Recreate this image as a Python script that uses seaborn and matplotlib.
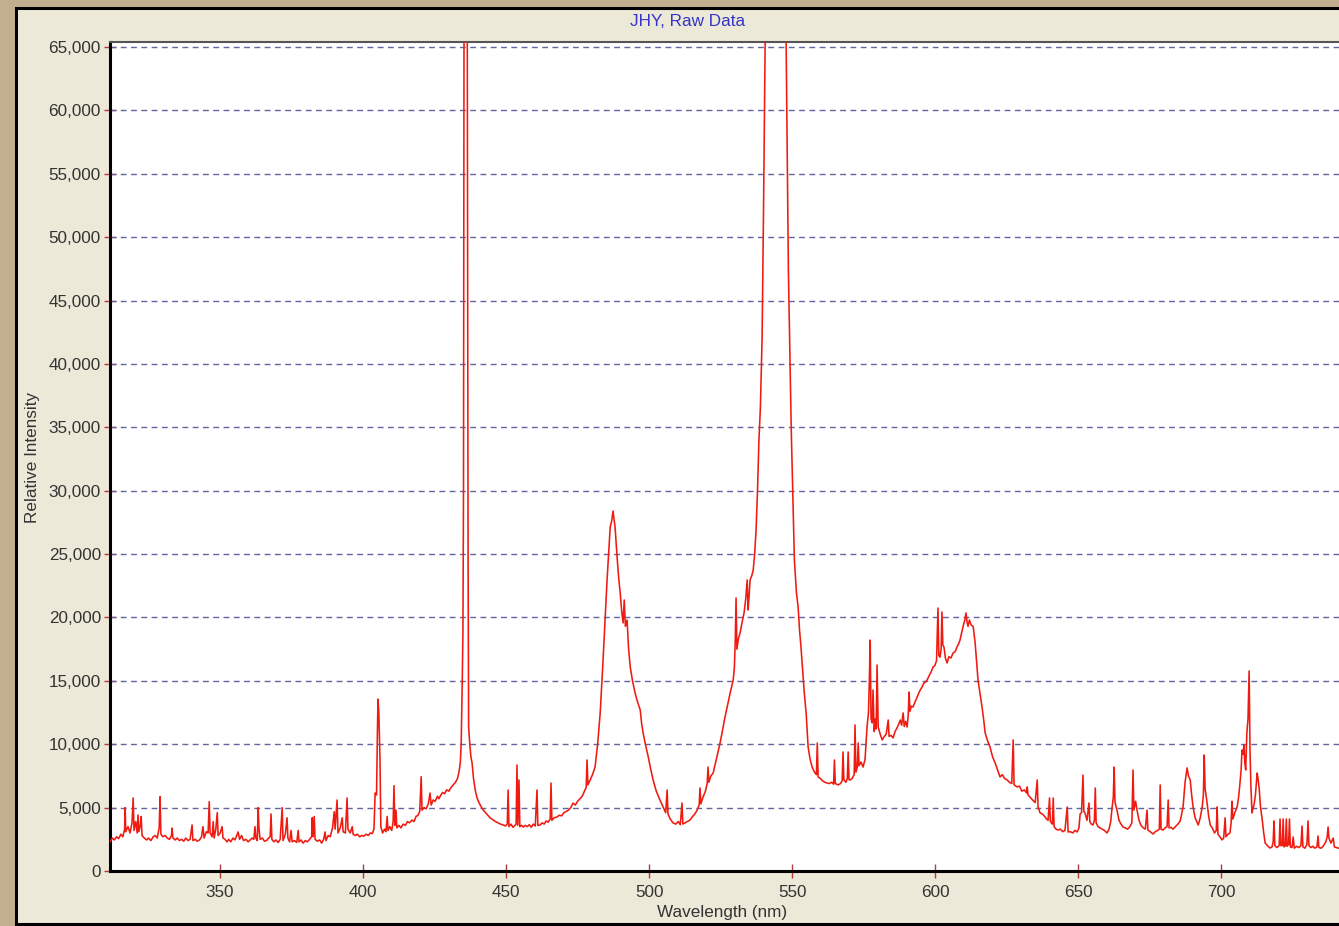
import matplotlib
matplotlib.use("Agg")
import matplotlib.pyplot as plt
from matplotlib.patches import Rectangle
from matplotlib.ticker import FuncFormatter, MultipleLocator
import seaborn as sns
import pandas as pd

# ---- spectrum data: (wavelength nm, relative intensity) ----
near_uv = [
    (311.5, 2300), (312.3, 2600), (313.0, 2450), (313.8, 2700), (314.5, 2550),
    (315.3, 2900), (316.0, 2700), (316.6, 3300), (316.8, 5000), (317.0, 3100),
    (317.8, 3500), (318.5, 3000), (319.2, 3800), (319.6, 5760), (319.9, 3200),
    (320.5, 3900), (321.0, 3000), (321.3, 4420), (321.6, 3100), (322.1, 3600),
    (322.4, 4300), (322.7, 2800), (323.5, 2600), (324.3, 2450), (325.0, 2600),
    (325.8, 2400), (326.6, 2700), (327.3, 2800), (328.0, 2600), (328.7, 3400),
    (329.0, 5860), (329.3, 2900), (330.0, 2700), (330.8, 2800), (331.5, 2600),
    (332.3, 2500), (333.0, 2800), (333.2, 3390), (333.5, 2600), (334.3, 2450),
    (335.0, 2600), (335.8, 2400), (336.5, 2500), (337.3, 2350), (338.0, 2600),
    (338.8, 2400), (339.5, 2500), (340.2, 3630), (340.5, 2400), (341.3, 2500),
    (342.0, 2350), (342.8, 2450), (343.5, 2700), (344.0, 3500), (344.4, 2600),
    (345.2, 3100), (345.8, 3000), (346.2, 5470), (346.5, 3000), (347.2, 2700),
    (347.6, 3890), (347.9, 2600), (348.5, 3300), (349.0, 4600), (349.3, 2800),
    (350.0, 3000), (350.7, 3500), (351.0, 2600), (351.7, 2500), (352.4, 2300),
    (353.0, 2500), (353.7, 2300), (354.5, 2600), (355.2, 2450), (355.8, 2800),
    (356.3, 3080), (356.8, 2500), (357.5, 2800), (358.2, 2400), (359.0, 2500),
    (359.8, 2300), (360.5, 2450), (361.2, 2600), (361.8, 2500), (362.2, 3500),
    (362.5, 2600), (363.0, 2400), (363.3, 5000), (363.6, 3300), (364.0, 2500),
    (364.8, 2600), (365.5, 2350), (366.2, 2400), (367.0, 2600), (367.5, 2700),
    (367.8, 4500), (368.1, 2500), (368.8, 2300), (369.5, 2450), (370.3, 2250),
    (371.0, 2500), (371.7, 5000), (372.0, 2400), (372.8, 2900), (373.4, 4200),
    (373.7, 2600), (374.3, 2300), (374.8, 3200), (375.2, 2300), (376.0, 2400),
    (376.8, 2250), (377.3, 3200), (377.6, 2300), (378.3, 2450), (379.0, 2200),
    (379.8, 2400), (380.5, 2300), (381.3, 2500), (382.0, 2700), (382.2, 4200),
    (382.5, 2700), (382.9, 4300), (383.2, 2500), (384.0, 2350), (384.8, 2450),
    (385.5, 2200), (386.2, 2500), (386.7, 3080), (387.0, 2400), (387.8, 2800),
    (388.5, 2700), (389.3, 3400), (389.9, 4680), (390.2, 3300), (390.9, 5600),
    (391.2, 3000), (392.0, 3400), (392.7, 4200), (393.0, 3100), (393.8, 3000),
    (394.4, 5760), (394.7, 3300), (395.5, 3000), (396.2, 3500), (396.5, 2900),
    (397.3, 2800), (398.0, 2900), (398.8, 2700), (399.5, 2800), (400.3, 2750),
    (401.0, 2900), (401.8, 2800), (402.5, 3000), (403.2, 2950), (403.8, 3300),
]

violet_blue = [
    (404.2, 6150), (404.7, 6000), (405.0, 11000), (405.2, 13570), (405.5, 12500),
    (405.9, 8840), (406.2, 3500), (406.8, 3000), (407.5, 3300), (408.0, 3100),
    (408.4, 4300), (408.7, 3200), (409.3, 3500), (410.0, 3200), (410.5, 3900),
    (410.8, 6730), (411.1, 3600), (411.5, 4800), (411.8, 3400), (412.5, 3600),
    (413.2, 3400), (414.0, 3700), (414.8, 3600), (415.5, 3900), (416.2, 3800),
    (417.1, 4020), (417.8, 3900), (418.5, 4300), (419.2, 4400), (419.8, 4700),
    (420.3, 7440), (420.6, 4800), (421.3, 5000), (422.0, 4900), (422.8, 5300),
    (423.4, 6150), (423.8, 5200), (424.5, 5600), (425.2, 5500), (426.0, 5900),
    (426.5, 5700), (427.2, 6000), (427.8, 6200), (428.5, 6100), (429.2, 6400),
    (430.0, 6300), (430.8, 6600), (431.5, 6790), (432.3, 7000), (433.0, 7300),
    (433.6, 7900), (434.0, 8600), (434.3, 10100), (434.6, 14000), (434.9, 18780),
    (435.1, 30000), (435.3, 70000), (435.8, 72000), (436.4, 70000), (436.7, 25000),
    (436.9, 11360), (437.3, 10000), (437.7, 9000), (438.1, 8520), (438.6, 7300),
    (439.2, 6390), (439.8, 5800), (440.5, 5400), (441.2, 5100), (442.0, 4810),
    (442.8, 4600), (443.6, 4400), (444.4, 4200), (445.5, 4020), (446.3, 3900),
    (447.2, 3800), (448.0, 3700), (449.0, 3630), (449.8, 3550), (450.4, 3700),
    (450.7, 6390), (451.0, 3500), (451.7, 3700), (452.4, 3450), (453.1, 3600),
    (453.5, 3700), (453.8, 8360), (454.1, 3600), (454.5, 7180), (454.8, 3500),
    (455.4, 3600), (456.0, 3470), (456.7, 3600), (457.4, 3500), (458.1, 3650),
    (458.8, 3450), (459.5, 3700), (460.2, 3550), (460.8, 6390), (461.1, 3600),
    (461.9, 3630), (462.6, 3800), (463.3, 3700), (464.0, 3950), (464.7, 3850),
    (465.4, 4100), (465.7, 6940), (466.0, 4000), (466.8, 4200), (467.8, 4260),
    (468.6, 4400), (469.4, 4350), (470.2, 4600), (471.0, 4700), (471.8, 4800),
    (472.6, 5000), (473.4, 5360), (474.2, 5200), (475.0, 5500), (475.8, 5700),
    (476.6, 5900), (477.4, 6300), (478.0, 6600), (478.3, 8760), (478.6, 6800),
    (479.4, 7180), (480.2, 7600), (481.1, 8200), (482.0, 10000), (482.9, 12470),
]

blue_green = [
    (483.9, 16650), (484.6, 19800), (485.3, 22960), (485.9, 25200), (486.4, 27140),
    (486.9, 27600), (487.4, 28400), (487.7, 27800), (488.1, 27140), (488.8, 24770),
    (489.4, 23000), (489.9, 21930), (490.4, 20500), (490.9, 19570), (491.3, 21380),
    (491.7, 19300), (492.3, 19800), (492.8, 17600), (493.4, 16100), (494.2, 15000),
    (495.1, 14040), (496.0, 13300), (496.9, 12700), (497.4, 11600), (497.9, 10890),
    (498.8, 9900), (499.7, 9000), (500.5, 8100), (501.4, 7180), (502.5, 6300),
    (503.8, 5600), (505.0, 5000), (505.8, 4600), (506.3, 6390), (506.6, 4500),
    (507.4, 4100), (508.4, 3790), (509.3, 3700), (510.2, 3900), (510.9, 3650),
    (511.5, 5360), (511.8, 3700), (512.6, 3800), (513.4, 3900), (514.3, 4020),
    (515.2, 4300), (516.0, 4500), (516.8, 4810), (517.5, 5200), (517.8, 6550),
    (518.1, 5300), (518.9, 5860), (519.7, 6300), (520.3, 6900), (520.6, 8200),
    (520.9, 7000), (521.6, 7500), (522.4, 7730), (523.2, 8500), (524.0, 9300),
    (524.8, 10100), (525.6, 11000), (526.4, 12000), (527.3, 12940), (528.3, 14000),
    (529.4, 15070), (529.8, 16000), (530.1, 17990), (530.4, 21540), (530.7, 17500),
    (531.2, 18300), (531.8, 18780), (532.5, 19600), (533.2, 20360), (533.8, 21500),
    (534.3, 22960), (534.6, 20590), (535.0, 21800), (535.3, 22960), (535.9, 23300),
    (536.4, 23750), (536.9, 25000), (537.4, 26900), (537.9, 30000), (538.4, 34000),
    (538.9, 36500), (539.5, 42000), (540.0, 52000), (540.6, 66000), (541.5, 70000),
    (543.0, 74000), (544.5, 76000), (546.0, 72000), (547.3, 68000), (547.9, 65500),
    (548.3, 56000), (548.7, 47400), (549.2, 41000), (549.7, 34800), (550.3, 29000),
    (550.8, 24500), (551.5, 22000), (552.1, 20830), (552.6, 19000), (553.1, 17670),
    (553.6, 16100), (554.2, 14200), (554.9, 12470), (555.6, 9780), (556.3, 8800),
    (557.0, 8200), (557.8, 7800), (558.5, 7600), (558.8, 10100), (559.1, 7420),
    (559.9, 7300), (560.7, 7100), (561.5, 7000), (562.2, 6940), (563.0, 6900),
    (563.8, 7000), (564.5, 6850), (564.8, 8760), (565.1, 6900), (566.1, 6790),
    (566.9, 6900), (567.5, 7100), (567.8, 9390), (568.1, 7200), (568.8, 7000),
    (569.3, 7300), (569.6, 9390), (569.9, 7200), (570.3, 7180), (571.0, 7300),
    (571.7, 7600), (572.0, 11520), (572.3, 7800), (572.8, 8200), (573.1, 10100),
    (573.4, 8300), (574.1, 8600), (574.8, 8200), (575.5, 8800),
]

yellow_red = [
    (576.2, 11360), (576.7, 12500), (577.0, 15000), (577.3, 18220), (577.6, 12000),
    (578.0, 11680), (578.3, 14280), (578.7, 11000), (579.1, 12000), (579.4, 11200),
    (579.7, 16250), (580.1, 11360), (580.8, 10800), (581.5, 10340), (582.2, 10600),
    (582.9, 10800), (583.6, 11910), (583.9, 10620), (584.6, 10700), (585.3, 10500),
    (586.0, 11000), (586.7, 11300), (587.3, 11600), (587.8, 11910), (588.3, 11500),
    (588.8, 12470), (589.2, 11400), (589.7, 11800), (590.2, 11360), (590.6, 12300),
    (590.9, 14120), (591.2, 12600), (591.7, 13000), (592.3, 12940), (592.9, 13300),
    (593.5, 13600), (594.2, 14000), (594.8, 14280), (595.4, 14500), (596.0, 14800),
    (596.6, 14900), (597.2, 15070), (597.9, 15400), (598.6, 15700), (599.3, 16100),
    (599.9, 16200), (600.5, 16600), (601.0, 20750), (601.3, 17000), (601.7, 16870),
    (602.1, 17500), (602.4, 20430), (602.7, 17800), (603.1, 17670), (603.6, 16800),
    (604.2, 16410), (604.8, 16900), (605.5, 16800), (606.3, 17200), (607.0, 17300),
    (607.7, 17700), (608.2, 17900), (608.7, 18220), (609.3, 18800), (609.9, 19400),
    (610.4, 19800), (610.8, 20360), (611.2, 19600), (611.5, 19300), (612.0, 19800),
    (612.6, 19400), (613.3, 19300), (614.0, 17990), (614.5, 16500), (615.0, 15070),
    (615.7, 14000), (616.4, 12940), (617.0, 11900), (617.5, 10890), (618.3, 10300),
    (619.2, 9780), (620.1, 9000), (621.0, 8520), (621.8, 8000), (622.7, 7420),
    (623.5, 7600), (624.3, 7300), (625.2, 7180), (626.0, 7000), (626.8, 6900),
    (627.3, 10340), (627.6, 6800), (628.7, 6630), (629.5, 6700), (630.3, 6300),
    (631.2, 6400), (632.0, 6150), (632.2, 6630), (632.5, 6000), (633.3, 5800),
    (634.1, 5600), (635.0, 5400), (635.7, 7180), (636.0, 5050), (636.7, 4580),
    (637.5, 4500), (638.3, 4300), (639.0, 4100), (639.5, 4000), (640.0, 5760),
    (640.3, 3900), (641.0, 3700), (641.3, 5760), (641.6, 3500), (642.3, 3300),
]

deep_red = [
    (643.0, 3230), (643.8, 3300), (644.6, 3100), (645.4, 3200), (646.2, 5050),
    (646.5, 3080), (647.3, 3100), (648.1, 3000), (648.9, 3200), (649.7, 3080),
    (650.3, 3400), (650.7, 4500), (651.2, 4600), (651.7, 7570), (652.0, 4700),
    (652.4, 4580), (653.1, 4000), (653.8, 5360), (654.1, 3900), (654.6, 3700),
    (655.2, 3630), (655.7, 4000), (656.0, 6550), (656.3, 3800), (657.0, 3500),
    (657.7, 3390), (658.4, 3300), (659.2, 3200), (660.1, 3000), (660.8, 3300),
    (661.4, 3900), (661.9, 5050), (662.3, 5800), (662.6, 8200), (662.9, 5400),
    (663.6, 4800), (664.3, 4000), (665.0, 3700), (665.7, 3470), (666.5, 3400),
    (667.3, 3300), (668.1, 3500), (668.8, 3800), (669.2, 7970), (669.5, 4800),
    (670.1, 5500), (670.6, 4800), (671.3, 4000), (672.0, 3600), (672.8, 3400),
    (673.5, 3300), (674.1, 4800), (674.4, 3230), (675.2, 3100), (676.2, 2920),
    (677.0, 3100), (677.8, 3200), (678.4, 3300), (678.7, 6790), (679.0, 3300),
    (679.7, 3230), (680.4, 3400), (681.1, 3500), (681.5, 5600), (681.8, 3400),
    (682.5, 3450), (683.2, 3300), (684.0, 3500), (684.9, 3700), (685.7, 3950),
    (686.2, 4500), (686.7, 5050), (687.4, 7000), (688.1, 8130), (688.6, 7500),
    (689.2, 7180), (689.7, 6000), (690.2, 5050), (690.9, 4200), (691.5, 3900),
    (692.0, 3630), (692.7, 4200), (693.4, 5050), (693.8, 6000), (694.1, 9150),
    (694.4, 6500), (695.1, 5360), (695.6, 4400), (696.2, 3630), (696.9, 3400),
    (697.7, 3000), (698.3, 3200), (698.6, 5050), (698.9, 2900), (699.6, 2700),
    (700.3, 2450), (700.9, 2600), (701.4, 4190), (701.7, 2700), (702.4, 2900),
    (703.1, 3000), (703.5, 3800), (703.8, 5500), (704.1, 4100), (704.8, 4600),
    (705.6, 5050), (706.1, 5800), (706.6, 6940), (707.0, 8000), (707.3, 9550),
    (707.7, 9200), (708.0, 9940), (708.3, 8500), (708.6, 7970), (709.0, 10890),
    (709.4, 12000), (709.8, 15780), (710.1, 9550), (710.4, 6800), (710.8, 4580),
    (711.2, 5000), (711.5, 5200), (712.0, 6000), (712.6, 7730), (712.9, 7300),
    (713.3, 6550), (713.8, 5000), (714.3, 4190), (714.9, 3000), (715.4, 2210),
    (716.2, 2000), (717.1, 1810), (717.8, 1900), (718.2, 2300), (718.5, 3950),
    (718.8, 2000), (719.5, 1850), (720.3, 2000), (720.6, 4100), (720.9, 2000),
    (721.4, 2000), (721.7, 4100), (722.0, 1900), (722.5, 2000), (722.8, 4100),
    (723.1, 1950), (723.6, 2100), (723.9, 4100), (724.2, 1900), (724.8, 1850),
    (725.2, 2680), (725.6, 1800), (726.4, 1950), (727.2, 1850), (727.9, 2000),
    (728.3, 3550), (728.6, 1900), (729.3, 1800), (730.0, 2100), (730.4, 3950),
    (730.7, 2000), (731.4, 1850), (732.1, 1950), (732.8, 1800), (733.5, 1900),
    (733.9, 2760), (734.2, 1850), (735.0, 1800), (735.8, 2000), (736.6, 2300),
    (737.1, 2700), (737.4, 3470), (737.7, 2600), (738.4, 2200), (739.2, 2600),
    (739.6, 1900), (740.3, 1850), (741.0, 1800), (742.0, 1850),
]

y_ticks = list(range(0, 65001, 5000))
x_ticks = [350, 400, 450, 500, 550, 600, 650, 700]

rows = near_uv + violet_blue + blue_green + yellow_red + deep_red
spectrum = pd.DataFrame(rows, columns=["wavelength", "intensity"])

# ---- figure & frame ----
W, H = 1339, 926
fig = plt.figure(figsize=(W / 100, H / 100), dpi=100)
fig.patch.set_facecolor("#c1af90")

# light Windows-style panel with black frame, kept behind the axes
panel = Rectangle((16 / W, 2 / H), 1.0, (H - 10) / H, transform=fig.transFigure,
                  facecolor="#ece9d8", edgecolor="black", linewidth=2.2,
                  zorder=-5)
fig.patches.append(panel)

sns.set_style("white")
plt.rcParams["font.family"] = ["Liberation Sans", "DejaVu Sans"]

x0, x1 = 311.5, 742.0
px_per_nm = 2.86
ax_left = 110 / W
ax_w = (x1 - x0) * px_per_nm / W
ax_bottom = (H - 871) / H
ax_h = (871 - 42) / H
ax = fig.add_axes([ax_left, ax_bottom, ax_w, ax_h])
ax.set_zorder(2)
ax.set_facecolor("white")

sns.lineplot(data=spectrum, x="wavelength", y="intensity", ax=ax,
             color="#f01a10", linewidth=1.15, estimator=None, sort=False,
             zorder=3)

ax.set_xlim(x0, x1)
ax.set_ylim(0, 65400)

# grid: dashed lines at each major intensity tick
ax.set_yticks(y_ticks)
ax.set_xticks(x_ticks)
ax.yaxis.set_minor_locator(MultipleLocator(1000))
ax.grid(False)
for v in y_ticks[1:]:
    ax.axhline(v, color="#6464a0", linewidth=1.0, linestyle=(0, (4.2, 3.2)),
               zorder=1)

ax.yaxis.set_major_formatter(FuncFormatter(lambda v, p: f"{v:,.0f}"))

ax.tick_params(axis="y", which="major", direction="inout", length=9, width=1,
               color="#b03a3a", labelsize=12.3, labelcolor="#333333", pad=2)
ax.tick_params(axis="y", which="minor", direction="out", length=3, width=1,
               color="#777777")
ax.tick_params(axis="x", which="major", direction="inout", length=10, width=1,
               color="#b03a3a", labelsize=12.3, labelcolor="#333333", pad=5)
ax.tick_params(left=True, bottom=True)

for side in ("left", "bottom"):
    ax.spines[side].set_color("black")
    ax.spines[side].set_linewidth(2.2)
ax.spines["top"].set_color("#555555")
ax.spines["top"].set_linewidth(1.5)
ax.spines["right"].set_visible(False)

ax.set_xlabel("")
ax.set_ylabel("")
fig.text(33 / W, 1 - 457 / H, "Relative Intensity", rotation=90, ha="center",
         va="center", fontsize=12.3, color="#333333")
fig.text(722 / W, 1 - 913 / H, "Wavelength (nm)", ha="center", va="center",
         fontsize=12.3, color="#333333")
fig.text(688 / W, 1 - 22 / H, "JHY, Raw Data", ha="center", va="center",
         fontsize=12.3, color="#3434c8")

fig.savefig("out.png", dpi=100, facecolor=fig.get_facecolor())
